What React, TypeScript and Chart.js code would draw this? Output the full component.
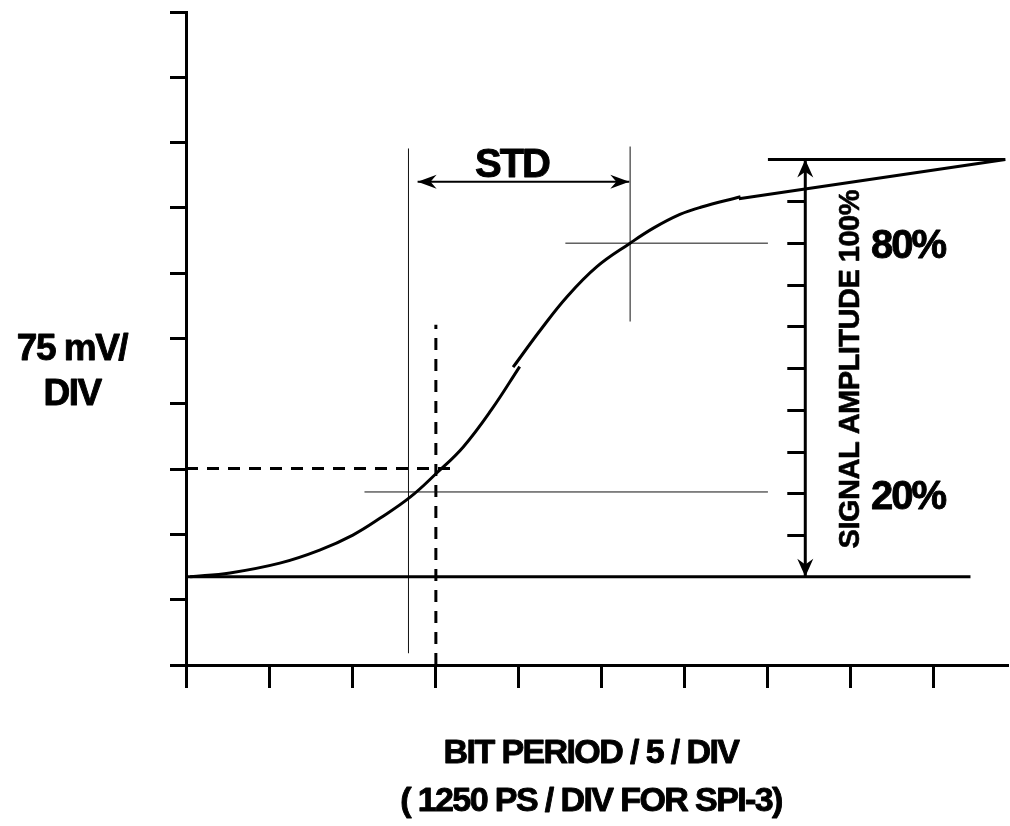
import React, { useEffect, useRef } from 'react';
import { Chart, registerables } from 'chart.js';

Chart.register(...registerables);

// ---- axis ticks (divisions) ----
const xTickValues = [0, 1, 2, 3, 4, 5, 6, 7, 8, 9];
const yTickValues = [0, 1, 2, 3, 4, 5, 6, 7, 8, 9, 10];
const xMax = 9.89;
const yMax = 10;

// ---- signal trace (divisions) ----
const curveLowerX = [0.05, 0.53, 1.13, 1.61, 2.01, 2.34, 2.7, 3.02, 3.34, 3.68, 4.02];
const curveLowerY = [1.35, 1.41, 1.56, 1.76, 1.99, 2.25, 2.57, 2.94, 3.34, 3.91, 4.57];
const curveUpperX = [3.94, 4.27, 4.59, 4.95, 5.35, 5.63, 5.95, 6.2, 6.68];
const curveUpperY = [4.56, 5.13, 5.64, 6.1, 6.46, 6.69, 6.9, 7.01, 7.17];
const topTraceX = [6.66, 9.87, 7.01];
const topTraceY = [7.14, 7.74, 7.74];
const baselineX = [0, 9.45];

// ---- levels ----
const baseLevel = 1.35;
const topLevel = 7.74;
const level20 = 2.65;
const level80 = 6.46;
const levelLineStartX = [2.15, 4.57]; // 20%, 80%
const levelLineEndX = 7.01;

// ---- STD markers ----
const stdLeftX = 2.68;
const stdLeftY = [0.18, 7.91];
const stdRightX = 5.35;
const stdRightY = [5.26, 7.94];
const stdArrowY = 7.4;
const stdArrowX = [2.79, 5.34];

// ---- dashed reference ----
const dashedX = 3.01;
const dashedVY = [0, 5.21];
const dashedY = 3.01;
const dashedHX = [0, 3.28];

// ---- amplitude arrow ----
const ampArrowX = 7.46;
const ampTicks = [10, 20, 30, 40, 50, 60, 70, 80, 90];

// ---- texts ----
const yLabelLines = ['75 mV/', 'DIV'];
const xLabelLines = ['BIT PERIOD / 5 / DIV', '( 1250 PS / DIV FOR SPI-3)'];
const stdLabel = 'STD';
const pctLabels = ['80%', '20%'];
const ampLabel = 'SIGNAL AMPLITUDE 100%';

const FONT = '"Liberation Sans", Arial, Helvetica, sans-serif';

const pts = (xs: number[], ys: number[]) => xs.map((x, i) => ({ x, y: ys[i] }));

function arrowHead(ctx: CanvasRenderingContext2D, tx: number, ty: number, dx: number, dy: number, len: number, hw: number) {
  const px = -dy;
  const py = dx;
  const bx = tx - dx * len;
  const by = ty - dy * len;
  const nx = tx - dx * len * 0.68;
  const ny = ty - dy * len * 0.68;
  ctx.beginPath();
  ctx.moveTo(tx, ty);
  ctx.lineTo(bx + px * hw, by + py * hw);
  ctx.lineTo(nx, ny);
  ctx.lineTo(bx - px * hw, by - py * hw);
  ctx.closePath();
  ctx.fill();
}

function boldText(ctx: CanvasRenderingContext2D, text: string, x: number, y: number, stroke = 0.9) {
  ctx.fillText(text, x, y);
  ctx.lineWidth = stroke;
  ctx.lineJoin = 'round';
  ctx.strokeText(text, x, y);
}

const annotPlugin = {
  id: 'annot',
  afterDatasetsDraw(chart: any) {
    const { ctx } = chart;
    const xs = chart.scales.x;
    const ys = chart.scales.y;
    ctx.save();
    ctx.fillStyle = '#000';
    ctx.strokeStyle = '#000';

    // amplitude arrow heads
    const ax = xs.getPixelForValue(ampArrowX);
    const yTop = ys.getPixelForValue(topLevel);
    const yBase = ys.getPixelForValue(baseLevel);
    arrowHead(ctx, ax, yTop, 0, -1, 18, 8);
    arrowHead(ctx, ax, yBase, 0, 1, 18, 8);

    // amplitude ticks
    ctx.lineWidth = 3;
    ampTicks.forEach((p) => {
      const v = baseLevel + ((topLevel - baseLevel) * p) / 100;
      const py = Math.round(ys.getPixelForValue(v)) + 0.5;
      ctx.beginPath();
      ctx.moveTo(ax - 18, py);
      ctx.lineTo(ax, py);
      ctx.stroke();
    });

    // STD arrow heads
    const sy = ys.getPixelForValue(stdArrowY);
    arrowHead(ctx, xs.getPixelForValue(stdArrowX[0]), sy, -1, 0, 19, 7);
    arrowHead(ctx, xs.getPixelForValue(stdArrowX[1]), sy, 1, 0, 19, 7);

    // texts
    ctx.textBaseline = 'alphabetic';
    ctx.textAlign = 'center';
    ctx.font = `bold 37px ${FONT}`;
    (ctx as any).letterSpacing = '-1.5px';
    boldText(ctx, yLabelLines[0], 72, 360);
    boldText(ctx, yLabelLines[1], 72, 405);

    ctx.font = `bold 34px ${FONT}`;
    (ctx as any).letterSpacing = '-1.6px';
    const xc = 591;
    boldText(ctx, xLabelLines[0], xc, 763);
    boldText(ctx, xLabelLines[1], xc, 811);

    ctx.font = `bold 40px ${FONT}`;
    (ctx as any).letterSpacing = '-2px';
    boldText(ctx, stdLabel, 512, 177);

    ctx.textAlign = 'left';
    ctx.font = `bold 40px ${FONT}`;
    (ctx as any).letterSpacing = '-2px';
    boldText(ctx, pctLabels[0], 871, ys.getPixelForValue(level80) + 15);
    boldText(ctx, pctLabels[1], 871, ys.getPixelForValue(level20) + 17);

    ctx.save();
    ctx.translate(859, (yTop + yBase) / 2 + 1);
    ctx.rotate(-Math.PI / 2);
    ctx.textAlign = 'center';
    ctx.font = `bold 29px ${FONT}`;
    (ctx as any).letterSpacing = '-0.5px';
    boldText(ctx, ampLabel, 0, 0, 0.6);
    ctx.restore();

    ctx.restore();
  },
};

export default function App() {
  const ref = useRef<HTMLCanvasElement | null>(null);

  useEffect(() => {
    if (!ref.current) return;
    const thick = (data: any[], extra: any = {}) => ({
      data,
      showLine: true,
      borderColor: '#000',
      borderWidth: 3,
      pointRadius: 0,
      fill: false,
      ...extra,
    });
    const thin = (data: any[]) => ({
      data,
      showLine: true,
      borderColor: '#111',
      borderWidth: 1,
      pointRadius: 0,
      fill: false,
    });
    const chart = new Chart(ref.current, {
      type: 'scatter',
      data: {
        datasets: [
          thick(pts(curveLowerX, curveLowerY), { tension: 0.4 }),
          thick(pts(curveUpperX, curveUpperY), { tension: 0.4 }),
          thick(pts(topTraceX, topTraceY)),
          thick(pts(baselineX, [baseLevel, baseLevel])),
          thin(pts([stdLeftX, stdLeftX], stdLeftY)),
          thin(pts([stdRightX, stdRightX], stdRightY)),
          thin(pts([levelLineStartX[0], levelLineEndX], [level20, level20])),
          thin(pts([levelLineStartX[1], levelLineEndX], [level80, level80])),
          thick(pts([dashedX, dashedX], dashedVY), { borderDash: [12, 9] }),
          thick(pts(dashedHX, [dashedY, dashedY]), { borderDash: [12, 9] }),
          thick(pts([ampArrowX, ampArrowX], [baseLevel, topLevel])),
          thick(pts(stdArrowX, [stdArrowY, stdArrowY]), { borderWidth: 2 }),
        ] as any,
      },
      options: {
        responsive: false,
        animation: false,
        layout: { padding: { left: 0, top: 12, right: 3, bottom: 0 } },
        plugins: {
          legend: { display: false },
          tooltip: { enabled: false },
          title: { display: false },
        },
        scales: {
          x: {
            type: 'linear',
            position: 'bottom',
            min: 0,
            max: xMax,
            afterFit: (s: any) => {
              s.height = 161;
            },
            afterBuildTicks: (s: any) => {
              s.ticks = xTickValues.map((v) => ({ value: v }));
            },
            ticks: { display: false },
            grid: { drawOnChartArea: false, drawTicks: true, tickLength: 23, lineWidth: 3, color: '#000' },
            border: { display: true, width: 3, color: '#000' },
          },
          y: {
            type: 'linear',
            position: 'left',
            min: 0,
            max: yMax,
            afterFit: (s: any) => {
              s.width = 186;
            },
            afterBuildTicks: (s: any) => {
              s.ticks = yTickValues.map((v) => ({ value: v }));
            },
            ticks: { display: false },
            grid: { drawOnChartArea: false, drawTicks: true, tickLength: 16, lineWidth: 3, color: '#000' },
            border: { display: true, width: 3, color: '#000' },
          },
        },
      } as any,
      plugins: [annotPlugin],
    });
    return () => chart.destroy();
  }, []);

  return (
    <div style={{ position: 'absolute', left: 0, top: 0, width: 1010, height: 826, background: '#fff' }}>
      <canvas ref={ref} width={1010} height={826} style={{ display: 'block', width: 1010, height: 826 }} />
    </div>
  );
}
